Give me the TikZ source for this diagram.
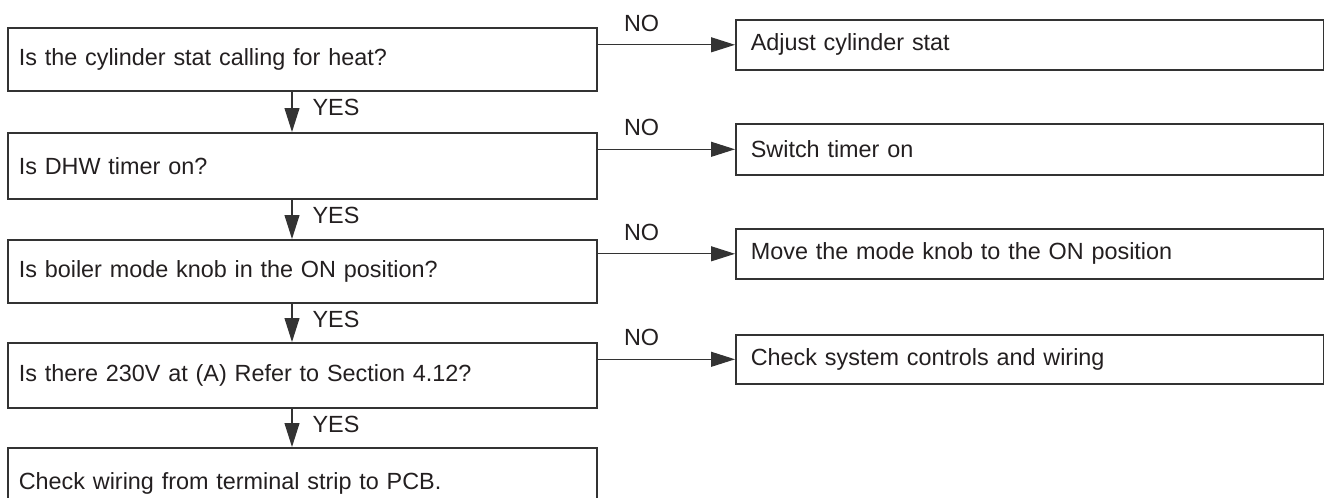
\documentclass[tikz,border=0pt]{standalone}
\usepackage{fontspec}
\setmainfont{Liberation Sans}
\usetikzlibrary{arrows.meta}
\definecolor{boxline}{HTML}{333333}
\definecolor{txt}{HTML}{231F20}
\begin{document}
\begin{tikzpicture}[x=0.5pt,y=-0.5pt,
  box/.style={draw=boxline, line width=0.8pt, anchor=north west, inner xsep=5.5pt, inner ysep=0pt,
    text width=283.5pt, align=left, text=txt, font=\fontsize{11.7}{14}\selectfont},
  act/.style={box, inner xsep=7.5pt, text width=279pt},
  flow/.style={draw=boxline, line width=0.55pt, -{Triangle[length=12pt,width=7.5pt]}},
  lbl/.style={inner sep=0pt, text=txt, font=\fontsize{11.7}{14}\selectfont}]
\useasboundingbox (0,0) rectangle (1324,498);
\clip (0,0) rectangle (1324,498);
% questions
\node[box, minimum height=31.5pt] (q1) at (7,27) {Is the cylinder stat calling for heat?};
\node[box, minimum height=33pt] (q2) at (7,132) {Is DHW timer on?};
\node[box, minimum height=31.5pt] (q3) at (7,239) {Is boiler mode knob in the ON position?};
\node[box, minimum height=32.5pt] (q4) at (7,342) {Is there 230V at (A) Refer to Section 4.12?};
\node[box, minimum height=36pt] (q5) at (7,447) {Check wiring from terminal strip to PCB.};
% actions
\node[act, minimum height=25pt] (a1) at (735,19) {Adjust cylinder stat};
\node[act, minimum height=25.5pt] (a2) at (735,123) {Switch timer on};
\node[act, minimum height=25pt] (a3) at (735,228) {Move the mode knob to the ON position};
\node[act, minimum height=24.5pt] (a4) at (735,334) {Check system controls and wiring};
% NO branches
\draw[flow] (q1.east |- a1.west) -- node[lbl, pos=0.32, above=6.5pt] {NO} (a1.west);
\draw[flow] (q2.east |- a2.west) -- node[lbl, pos=0.32, above=6.5pt] {NO} (a2.west);
\draw[flow] (q3.east |- a3.west) -- node[lbl, pos=0.32, above=6.5pt] {NO} (a3.west);
\draw[flow] (q4.east |- a4.west) -- node[lbl, pos=0.32, above=6.5pt] {NO} (a4.west);
% YES branches
\coordinate (spine) at (292,0);
\draw[flow] (q1.south -| spine) -- node[lbl, pos=0.4, right=10pt] {YES} (q2.north -| spine);
\draw[flow] (q2.south -| spine) -- node[lbl, pos=0.4, right=10pt] {YES} (q3.north -| spine);
\draw[flow] (q3.south -| spine) -- node[lbl, pos=0.4, right=10pt] {YES} (q4.north -| spine);
\draw[flow] (q4.south -| spine) -- node[lbl, pos=0.4, right=10pt] {YES} (q5.north -| spine);
\end{tikzpicture}
\end{document}
